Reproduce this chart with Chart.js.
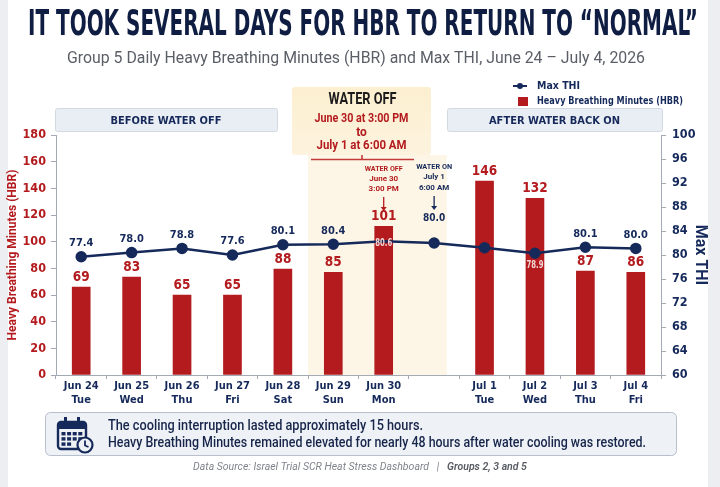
<!DOCTYPE html>
<html>
<head>
<meta charset="utf-8">
<script src="https://cdn.jsdelivr.net/npm/chart.js@4.4.1/dist/chart.umd.min.js"></script>
<style>
  html, body { margin: 0; padding: 0; background: #eceef2; }
  canvas { display: block; }
</style>
</head>
<body>
<canvas id="hbrChart" width="720" height="487"></canvas>
<script>
// --- data (bar / point heights as drawn, printed numbers as shown) ---
const days = ["Jun 24", "Jun 25", "Jun 26", "Jun 27", "Jun 28", "Jun 29", "Jun 30", "", "Jul 1", "Jul 2", "Jul 3", "Jul 4"];
const weekdays = ["Tue", "Wed", "Thu", "Fri", "Sat", "Sun", "Mon", "", "Tue", "Wed", "Thu", "Fri"];
const hbrMinutes = [66, 73.5, 60, 60, 79.5, 77, 111.5, null, 145.5, 132.5, 78, 77];
const hbrPrinted = ["69", "83", "65", "65", "88", "85", "101", null, "146", "132", "87", "86"];
const maxThi = [79.7, 80.4, 81.1, 80.0, 81.7, 81.8, 82.3, 82.0, 81.2, 80.3, 81.3, 81.1];
const thiPrinted = ["77.4", "78.0", "78.8", "77.6", "80.1", "80.4", "80.6", "80.0", null, "78.9", "80.1", "80.0"];
const hbrTicks = [0, 20, 40, 60, 80, 100, 120, 140, 160, 180];
const thiTicks = [60, 64, 68, 72, 76, 80, 84, 88, 92, 96, 100];

const navy = "#15295a";
const red = "#b31b1e";
const axisGray = "#a3aab6";
const SANS = "Roboto, 'Noto Sans', sans-serif";
const NARROW = "'Liberation Sans Narrow', 'DejaVu Sans Condensed', Roboto, sans-serif";

Chart.defaults.font.family = NARROW;

function roundRect(c, x, y, w, h, r) {
    c.beginPath();
    c.moveTo(x + r, y);
    c.arcTo(x + w, y, x + w, y + h, r);
    c.arcTo(x + w, y + h, x, y + h, r);
    c.arcTo(x, y + h, x, y, r);
    c.arcTo(x, y, x + w, y, r);
    c.closePath();
}

function drawCalendar(c, x, y) {
    c.save();
    c.strokeStyle = navy;
    c.fillStyle = navy;
    c.lineWidth = 2.4;
    roundRect(c, x + 1, y + 5, 28, 27, 3);
    c.stroke();
    c.fillRect(x + 1, y + 5, 28, 7);
    c.fillRect(x + 7, y, 3, 9);
    c.fillRect(x + 20, y, 3, 9);
    for (let r = 0; r < 3; r++) {
        for (let k = 0; k < 4; k++) {
            if (r === 2 && k > 1) continue;
            c.fillRect(x + 4.5 + k * 5.6, y + 15 + r * 5.2, 4, 3.4);
        }
    }
    c.beginPath();
    c.arc(x + 28, y + 28, 7.5, 0, Math.PI * 2);
    c.fillStyle = "#eef1f6";
    c.fill();
    c.lineWidth = 2.2;
    c.stroke();
    c.beginPath();
    c.moveTo(x + 28, y + 23.5);
    c.lineTo(x + 28, y + 28.5);
    c.lineTo(x + 31.5, y + 30);
    c.lineWidth = 1.8;
    c.stroke();
    c.restore();
}

const decorPlugin = {
    id: "decor",
    beforeDraw(chart) {
        const c = chart.ctx;
        const a = chart.chartArea;
        const x = chart.scales.x;
        const cw = x.getPixelForValue(1) - x.getPixelForValue(0);
        c.save();
        c.fillStyle = "#eceef2";
        c.fillRect(0, 0, chart.width, chart.height);
        c.fillStyle = "#ffffff";
        roundRect(c, 8, -6, 700, 499, 6);
        c.fill();

        // title + subtitle
        c.textAlign = "center";
        c.textBaseline = "middle";
        c.fillStyle = "#0f1d42";
        c.font = "bold 35px " + NARROW;
        c.fillText("IT TOOK SEVERAL DAYS FOR HBR TO RETURN TO \u201CNORMAL\u201D", 363, 26, 670);
        c.fillStyle = "#5a5e66";
        c.font = "16px " + SANS;
        c.fillText("Group 5 Daily Heavy Breathing Minutes (HBR) and Max THI, June 24 \u2013 July 4, 2026", 356, 59, 578);

        // shaded water-off period
        const bx0 = x.getPixelForValue(5) - cw / 2;
        const bx1 = x.getPixelForValue(7) + cw / 4;
        c.fillStyle = "#fdf6e6";
        c.fillRect(bx0, 155, bx1 - bx0, a.bottom - 155);

        // water off box
        const g = c.createLinearGradient(0, 87, 0, 155);
        g.addColorStop(0, "#fcefd0");
        g.addColorStop(1, "#fdf3de");
        c.fillStyle = g;
        roundRect(c, 292, 87, 139, 68, 3);
        c.fill();
        c.fillStyle = "#1b1b1b";
        c.font = "bold 16px " + SANS;
        c.fillText("WATER OFF", 362.5, 100, 68);
        c.fillStyle = red;
        c.font = "bold 12px " + SANS;
        c.fillText("June 30 at 3:00 PM", 361.5, 119, 94);
        c.fillText("to", 361.5, 133);
        c.fillText("July 1 at 6:00 AM", 361.5, 146, 90);
        c.strokeStyle = "#c43a3a";
        c.lineWidth = 1.6;
        c.beginPath();
        c.moveTo(311, 159.5);
        c.lineTo(414, 159.5);
        c.moveTo(362, 159.5);
        c.lineTo(362, 155);
        c.stroke();

        // section headers
        c.font = "bold 11px " + NARROW;
        [[55, 222, "BEFORE WATER OFF"], [447, 215, "AFTER WATER BACK ON"]].forEach(([hx, hw, txt]) => {
            c.fillStyle = "#e9edf4";
            c.strokeStyle = "#d3d9e3";
            c.lineWidth = 1;
            roundRect(c, hx + 0.5, 108.5, hw, 23, 2);
            c.fill();
            c.stroke();
            c.fillStyle = navy;
            c.fillText(txt, hx + hw / 2, 121);
        });

        // legend
        const ds = chart.data.datasets;
        c.textAlign = "left";
        c.font = "bold 10.5px " + NARROW;
        c.strokeStyle = navy;
        c.lineWidth = 2;
        c.beginPath();
        c.moveTo(513, 86);
        c.lineTo(527, 86);
        c.stroke();
        c.fillStyle = navy;
        c.beginPath();
        c.arc(520, 86, 3, 0, Math.PI * 2);
        c.fill();
        c.fillText(ds[0].label, 537, 86);
        c.fillStyle = red;
        c.fillRect(518, 97, 10, 9);
        c.fillStyle = navy;
        c.fillText(ds[1].label, 537, 101.5, 146);

        // bottom note
        c.fillStyle = "#eef1f6";
        c.strokeStyle = "#b7bfcc";
        c.lineWidth = 1;
        roundRect(c, 45.5, 412.5, 631, 43, 5);
        c.fill();
        c.stroke();
        drawCalendar(c, 57, 417);
        c.fillStyle = "#17254a";
        c.font = "500 14px " + SANS;
        c.fillText("The cooling interruption lasted approximately 15 hours.", 108, 426, 315);
        c.fillText("Heavy Breathing Minutes remained elevated for nearly 48 hours after water cooling was restored.", 108, 443, 538);

        // source
        const s1 = "Data Source: Israel Trial SCR Heat Stress Dashboard";
        const s2 = "   |   ";
        const s3 = "Groups 2, 3 and 5";
        c.font = "italic 10.5px " + SANS;
        const w1 = c.measureText(s1).width;
        const w2 = c.measureText(s2).width;
        c.font = "italic 600 10.5px " + SANS;
        const w3 = c.measureText(s3).width;
        let sx = 360 - (w1 + w2 + w3) / 2;
        c.font = "italic 10.5px " + SANS;
        c.fillStyle = "#80848c";
        c.fillText(s1, sx, 467);
        c.fillText(s2, sx + w1, 467);
        c.font = "italic 600 10.5px " + SANS;
        c.fillStyle = "#575b63";
        c.fillText(s3, sx + w1 + w2, 467);
        c.restore();
    },
    afterDatasetsDraw(chart) {
        const c = chart.ctx;
        const x = chart.scales.x;
        const lineMeta = chart.getDatasetMeta(0);
        const barMeta = chart.getDatasetMeta(1);
        c.save();
        c.textAlign = "center";
        c.textBaseline = "middle";

        // bar labels
        c.font = "bold 13.5px " + NARROW;
        c.fillStyle = red;
        barMeta.data.forEach((bar, i) => {
            if (hbrPrinted[i] === null || hbrMinutes[i] === null) return;
            c.fillText(hbrPrinted[i], bar.x, bar.y - 9.5);
        });

        // THI labels
        lineMeta.data.forEach((pt, i) => {
            const txt = thiPrinted[i];
            if (txt === null) return;
            const bar = barMeta.data[i];
            const insideBar = hbrMinutes[i] !== null && pt.y > bar.y;
            if (insideBar) {
                c.font = "bold 10px " + NARROW;
                c.fillStyle = "#f4d6d6";
                c.fillText(txt, pt.x, pt.options.radius === 0 ? pt.y + 2 : pt.y + 12.5, 17);
            } else if (hbrMinutes[i] === null) {
                c.font = "bold 10px " + NARROW;
                c.fillStyle = navy;
                c.fillText(txt, pt.x, pt.y - 25);
            } else {
                c.font = "bold 11px " + NARROW;
                c.fillStyle = navy;
                c.fillText(txt, pt.x, pt.y - 13.5);
            }
        });

        // event callouts
        const offX = x.getPixelForValue(6);
        const onX = x.getPixelForValue(7);
        c.font = "bold 8px " + SANS;
        c.fillStyle = red;
        ["WATER OFF", "June 30", "3:00 PM"].forEach((t, k) => c.fillText(t, offX, 169 + k * 10.2, 38));
        c.fillStyle = navy;
        ["WATER ON", "July 1", "6:00 AM"].forEach((t, k) => c.fillText(t, onX, 166.7 + k * 10.5, 36));
        [[offX, red, 197, 211], [onX, navy, 196, 210]].forEach(([ax, col, y0, y1]) => {
            c.strokeStyle = col;
            c.fillStyle = col;
            c.lineWidth = 1.3;
            c.beginPath();
            c.moveTo(ax, y0);
            c.lineTo(ax, y1 - 3);
            c.stroke();
            c.beginPath();
            c.moveTo(ax - 3, y1 - 4);
            c.lineTo(ax + 3, y1 - 4);
            c.lineTo(ax, y1);
            c.closePath();
            c.fill();
        });
        c.restore();
    }
};

new Chart(document.getElementById("hbrChart"), {
    type: "bar",
    data: {
        labels: days.map((d, i) => [d, weekdays[i]]),
        datasets: [
            {
                type: "line",
                label: "Max THI",
                data: maxThi,
                yAxisID: "yThi",
                borderColor: navy,
                backgroundColor: navy,
                borderWidth: 2.5,
                pointRadius: ctx => (ctx.dataIndex === 6 ? 0 : 4.5),
                tension: 0,
                order: 0
            },
            {
                type: "bar",
                label: "Heavy Breathing Minutes (HBR)",
                data: hbrMinutes,
                yAxisID: "yHbr",
                backgroundColor: red,
                barThickness: 18,
                order: 1
            }
        ]
    },
    options: {
        responsive: false,
        animation: false,
        layout: { padding: { top: 135, bottom: 76, left: 0, right: 0 } },
        plugins: {
            legend: { display: false },
            tooltip: { enabled: false }
        },
        scales: {
            x: {
                grid: { drawOnChartArea: false, offset: true, tickLength: 4, color: axisGray },
                border: { color: axisGray },
                ticks: {
                    color: navy,
                    font: { size: 11, weight: "bold" },
                    padding: 1,
                    maxRotation: 0,
                    autoSkip: false
                },
                afterFit: s => { s.height = 36; }
            },
            yHbr: {
                position: "left",
                min: 0,
                max: 180,
                afterBuildTicks: s => { s.ticks = hbrTicks.map(v => ({ value: v })); },
                grid: { drawOnChartArea: false, tickLength: 5, color: axisGray },
                border: { color: axisGray },
                ticks: { color: red, font: { size: 12.5, weight: "bold" }, padding: 5 },
                title: {
                    display: true,
                    text: "Heavy Breathing Minutes (HBR)",
                    color: red,
                    font: { size: 12, weight: "bold", family: SANS },
                    padding: { top: 6, bottom: 0 }
                },
                afterFit: s => { s.width = 56; }
            },
            yThi: {
                position: "right",
                min: 60,
                max: 100,
                afterBuildTicks: s => { s.ticks = thiTicks.map(v => ({ value: v })); },
                grid: { drawOnChartArea: false, tickLength: 5, color: axisGray },
                border: { color: axisGray },
                ticks: { color: navy, font: { size: 12.5, weight: "bold" }, padding: 6 },
                title: {
                    display: true,
                    text: "Max THI",
                    color: navy,
                    font: { size: 16, weight: "bold", family: SANS },
                    padding: { top: 10, bottom: 0 }
                },
                afterFit: s => { s.width = 59; }
            }
        }
    },
    plugins: [decorPlugin]
});
</script>
</body>
</html>
